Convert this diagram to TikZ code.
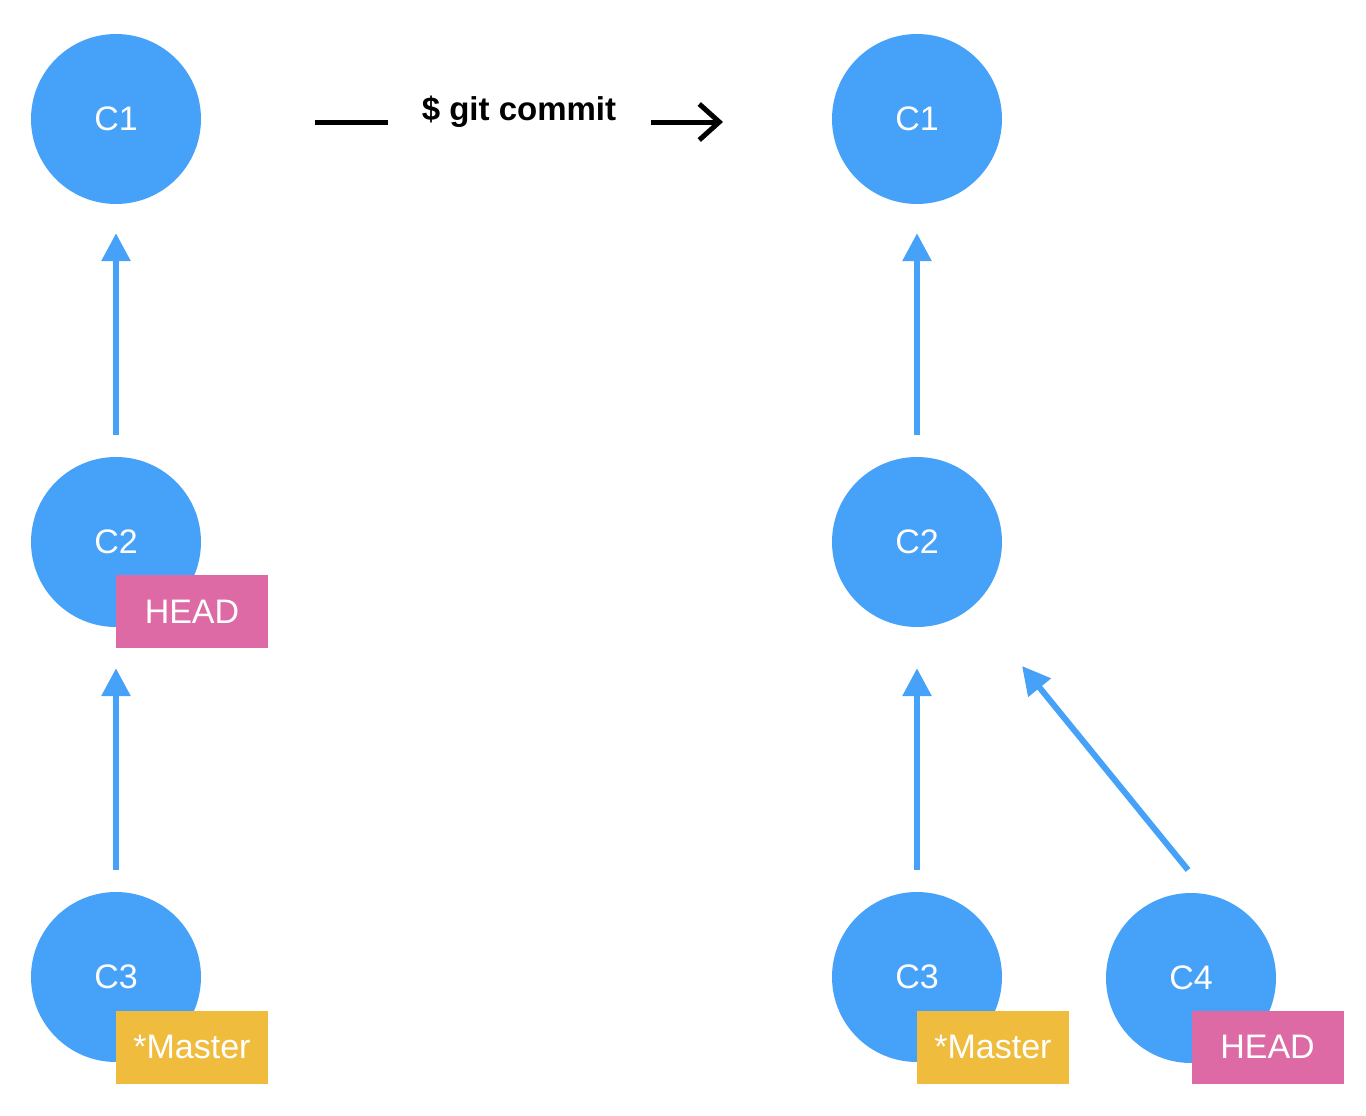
\documentclass[tikz,border=0pt]{standalone}
\usepackage{fontspec}
\setmainfont{Liberation Sans}
\usetikzlibrary{arrows.meta}
\definecolor{commitblue}{HTML}{46A1F8}
\definecolor{headpink}{HTML}{DE6AA5}
\definecolor{branchgold}{HTML}{F0BC3D}
\begin{document}
\begin{tikzpicture}[x=1pt,y=-1pt,
  commit/.style={circle,fill=commitblue,minimum size=170pt,inner sep=0pt,
    text=white,font=\fontsize{34}{40}\selectfont},
  tag/.style={rectangle,minimum width=152pt,minimum height=73pt,inner sep=0pt,
    text=white,font=\fontsize{34}{40}\selectfont},
  headtag/.style={tag,fill=headpink},
  branchtag/.style={tag,fill=branchgold},
  parent/.style={draw=commitblue,line width=6pt,
    -{Triangle[length=28pt,width=28pt]}},
  cmdline/.style={draw=black,line width=5pt}]
\useasboundingbox (0,0) rectangle (1366,1116);

% history before the commit
\node[commit] (l1) at (116,119) {C1};
\node[commit] (l2) at (116,542) {C2};
\node[commit] (l3) at (116,977) {C3};
\node[headtag] (lhead) at (192,611.5) {HEAD};
\node[branchtag] (lmaster) at (192,1047) {*Master};

% history after the commit
\node[commit] (r1) at (917,119) {C1};
\node[commit] (r2) at (917,542) {C2};
\node[commit] (r3) at (917,977) {C3};
\node[commit] (r4) at (1191,978) {C4};
\node[branchtag] (rmaster) at (993,1047) {*Master};
\node[headtag] (rhead) at (1267.5,1047) {HEAD};

% parent links
\draw[parent,shorten <=22pt,shorten >=29pt] (l2.north) -- (l1.south);
\draw[parent,shorten <=22pt,shorten >=41pt] (l3.north) -- (l2.south);
\draw[parent,shorten <=22pt,shorten >=29pt] (r2.north) -- (r1.south);
\draw[parent,shorten <=22pt,shorten >=41pt] (r3.north) -- (r2.south);
\coordinate (d0) at (1188,870);
\coordinate (d1) at (1022,666);
\draw[parent] (d0) -- (d1);

% command label with its arrow
\node[inner sep=0pt,anchor=base,font=\bfseries\fontsize{33}{38}\selectfont] (cmd) at (519,120) {\$ git commit};
\coordinate (a0) at (315,122);
\coordinate (a1) at (388,122);
\coordinate (a2) at (651,122);
\coordinate (a3) at (723,122);
\draw[cmdline] (a0) -- (a1);
\draw[cmdline,-{Straight Barb[length=20pt,width=36pt]}] (a2) -- (a3);
\end{tikzpicture}
\end{document}
